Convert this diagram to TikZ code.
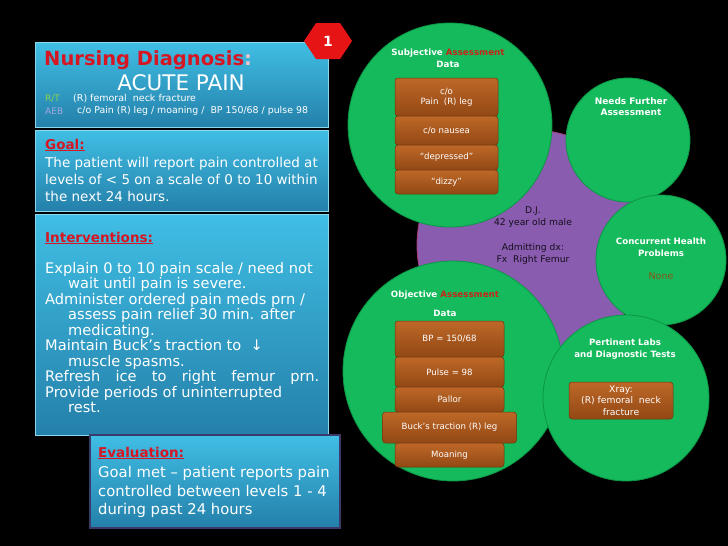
\documentclass[tikz,border=0pt]{standalone}
\usepackage{fontspec}
\setmainfont{DejaVu Sans}
\setsansfont{DejaVu Sans}
\usetikzlibrary{positioning}

\definecolor{panelTop}{RGB}{64,190,228}
\definecolor{panelBot}{RGB}{36,128,170}
\definecolor{diagRed}{RGB}{214,22,34}
\definecolor{leafGreen}{RGB}{20,186,92}
\definecolor{leafEdge}{RGB}{12,150,70}
\definecolor{hubPurple}{RGB}{138,92,176}
\definecolor{hubRim}{RGB}{170,60,120}
\definecolor{barTop}{RGB}{190,104,40}
\definecolor{barBot}{RGB}{146,72,20}
\definecolor{barEdge}{RGB}{110,52,12}
\definecolor{assessRed}{RGB}{196,40,24}
\definecolor{noneBrown}{RGB}{140,84,26}
\definecolor{rtGreen}{RGB}{140,212,70}
\definecolor{aebLilac}{RGB}{166,166,226}
\definecolor{evalEdge}{RGB}{58,58,108}
\definecolor{hexRed}{RGB}{230,20,20}

\newcommand{\fsz}[2]{\fontsize{#1}{#2}\selectfont}
\newcommand{\redhead}[1]{\textcolor{diagRed}{\underline{#1}}}

\begin{document}
\begin{tikzpicture}[
  x=1pt, y=-1pt,
  font=\sffamily,
  panel/.style={anchor=north west, top color=panelTop, bottom color=panelBot, draw=panelTop!60!white, line width=0.4pt, minimum width=293pt, inner sep=0pt},
  txt/.style={anchor=west, text=white, inner sep=0pt},
  para/.style={anchor=north west, align=left, text=white, inner sep=0pt},
  head/.style={anchor=west, inner sep=0pt, font=\sffamily\bfseries\fsz{13.5}{15}},
  leaf/.style={circle, fill=leafGreen, draw=leafEdge, line width=0.8pt, inner sep=0pt},
  hub/.style={circle, fill=hubPurple, draw=hubRim, line width=0.8pt, inner sep=0pt},
  bar/.style={draw=barEdge, line width=0.5pt, rounded corners=3pt, top color=barTop, bottom color=barBot, text=white, align=center, inner sep=0pt, font=\sffamily\fsz{8.6}{10}},
  circlecap/.style={align=center, text=white, inner sep=0pt, font=\sffamily\bfseries\fsz{8.7}{11.8}},
]
\fill[black] (0,0) rectangle (728,546);
\useasboundingbox (0,0) rectangle (728,546);

% ===== Left column: care plan panels =====
\node[panel, minimum height=85pt] (diag) at (35,42) {};
\node[panel, minimum height=81pt] (goal) at (35,130) {};
\node[panel, minimum height=221pt] (intv) at (35,214) {};

\node[head, text=diagRed, font=\sffamily\bfseries\fsz{19.5}{21}] (diagtitle) at (44,60) {Nursing Diagnosis\textcolor{diagRed!25!white}{:}};
\node[txt, anchor=center, font=\sffamily\fsz{21.5}{23}] (acute) at (181,83) {ACUTE PAIN};
\node[txt, text=rtGreen, font=\sffamily\fsz{9}{10}] (rt) at (45,99) {R/T};
\node[txt, font=\sffamily\fsz{9.5}{10}] (rttext) at (73,99) {(R) femoral\ \ neck fracture};
\node[txt, text=aebLilac, font=\sffamily\fsz{9}{10}] (aeb) at (45,111) {AEB};
\node[txt, font=\sffamily\fsz{9.4}{10}] (aebtext) at (77,111) {c/o Pain (R) leg / moaning /\ \ BP 150/68 / pulse 98};

\node[head] (goalhead) at (45,145) {\redhead{Goal:}};
\node[para, font=\sffamily\fsz{13.5}{17}] (goaltext) at (45,157) {The patient will report pain controlled at\\levels of < 5 on a scale of 0 to 10 within\\the next 24 hours.};

\node[head] (intvhead) at (45,238) {\redhead{Interventions:}};
\node[para, font=\sffamily\fsz{14.6}{15.5}] (intvtext) at (45,262) {Explain 0 to 10 pain scale / need not\\
  \hspace*{23pt}wait until pain is severe.\\
  Administer ordered pain meds prn /\\
  \hspace*{23pt}assess pain relief 30 min. after\\
  \hspace*{23pt}medicating.\\
  Maintain Buck’s traction to\ \ ↓\\
  \hspace*{23pt}muscle spasms.\\
  \makebox[274pt][s]{Refresh ice to right femur prn.}\\
  Provide periods of uninterrupted\\
  \hspace*{23pt}rest.};

% evaluation box sits over the bottom of the interventions panel
\node[panel, minimum width=250pt, minimum height=93pt, draw=evalEdge, line width=2.4pt] (eval) at (89,434) {};
\node[head] (evalhead) at (98,453) {\redhead{Evaluation:}};
\node[para, font=\sffamily\fsz{14.8}{18.5}] (evaltext) at (98,466.5) {Goal met – patient reports pain\\controlled between levels 1 - 4\\during past 24 hours};

% step badge
\fill[hexRed] (304,41) -- (316,23) -- (340,23) -- (352,41) -- (340,59) -- (316,59) -- cycle;
\node[text=white, font=\sffamily\bfseries\fsz{14}{16}] (badge) at (328,41) {1};

% ===== Right side: patient hub and assessment circles =====
\node[hub, minimum size=230pt] (dj) at (532,245) {};
\node[leaf, minimum size=204pt] (subj) at (450,125) {};
\node[leaf, minimum size=124pt] (needs) at (628,140) {};
\node[leaf, minimum size=130pt] (conc) at (661,260) {};
\node[leaf, minimum size=220pt] (obj) at (453,371) {};
\node[leaf, minimum size=166pt] (labs) at (626,398) {};

\node[align=center, inner sep=0pt, text=black!85!hubPurple, font=\sffamily\fsz{9.2}{12}] (djtext) at (533,236) {D.J.\\42 year old male\\[13pt]Admitting dx:\\Fx\ \ Right Femur};

% subjective data
\node[circlecap] (subjcap) at (448,58) {Subjective \textcolor{assessRed}{Assessment}\\Data};
\node[bar, minimum width=103pt, minimum height=38pt] (s1) at (446.5,97) {c/o\\Pain\ \ (R) leg};
\node[bar, minimum width=103pt, minimum height=29pt, below=-0.5pt of s1] (s2) {c/o nausea};
\node[bar, minimum width=103pt, minimum height=25pt, below=-0.5pt of s2] (s3) {“depressed”};
\node[bar, minimum width=103pt, minimum height=24pt, below=-0.5pt of s3] (s4) {“dizzy”};

% objective data
\node[circlecap, font=\sffamily\bfseries\fsz{8.7}{19}] (objcap) at (445,303.5) {Objective \textcolor{assessRed}{Assessment}\\Data};
\node[bar, minimum width=109pt, minimum height=36pt] (o1) at (449.5,339) {BP = 150/68};
\node[bar, minimum width=109pt, minimum height=30pt, below=-0.5pt of o1] (o2) {Pulse = 98};
\node[bar, minimum width=109pt, minimum height=25pt, below=-0.5pt of o2] (o3) {Pallor};
\node[bar, minimum width=134pt, minimum height=31pt, below=-0.5pt of o3] (o4) {Buck’s traction (R) leg};
\node[bar, minimum width=109pt, minimum height=24pt, below=-0.5pt of o4] (o5) {Moaning};

% other circles
\node[circlecap, font=\sffamily\bfseries\fsz{9}{11.5}] (needscap) at (631,106.5) {Needs Further\\Assessment};
\node[circlecap] (conccap) at (661,247) {Concurrent Health\\Problems};
\node[inner sep=0pt, text=noneBrown, font=\sffamily\fsz{9.5}{10}, below=16pt of conccap] (none) {None};
\node[circlecap] (labscap) at (625,349.5) {Pertinent Labs\\and Diagnostic Tests};
\node[bar, minimum width=104pt, minimum height=37pt, font=\sffamily\fsz{9.2}{11.5}] (xray) at (621,400.5) {Xray:\\(R) femoral\ \ neck\\fracture};

\end{tikzpicture}
\end{document}
